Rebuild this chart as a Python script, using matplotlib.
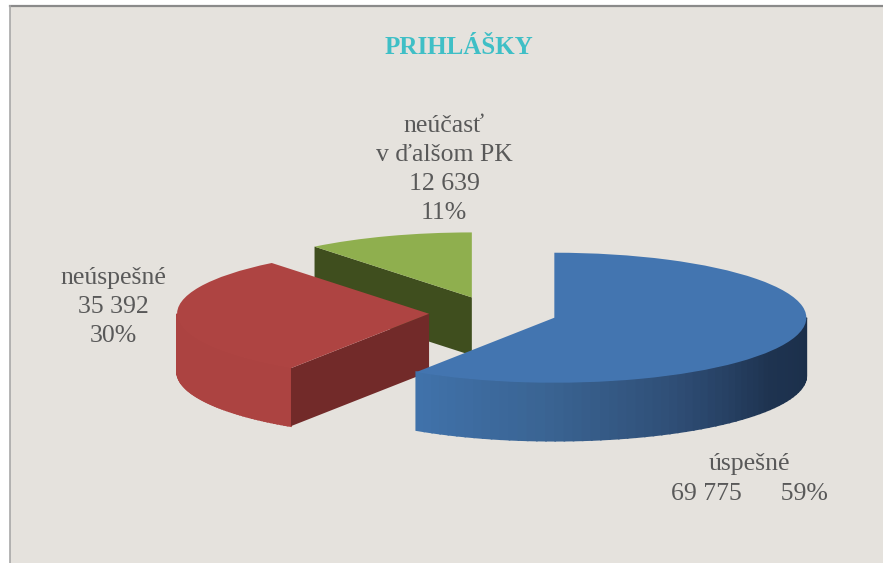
import numpy as np
import matplotlib
matplotlib.use('Agg')
import matplotlib.pyplot as plt
from matplotlib.patches import Rectangle
from matplotlib.colors import LinearSegmentedColormap

categories = ['úspešné', 'neúspešné', 'neúčasť v ďalšom PK']
values = [69775, 35392, 12639]
label_texts = ['úspešné\n69 775      59%', 'neúspešné\n35 392\n30%', 'neúčasť\nv ďalšom PK\n12 639\n11%']
title = 'PRIHLÁŠKY'

W, H = 883, 563
# pie centre and radii in pixels, depth of the "3d" side
cx, cy = 493, 313
rx, ry = 252, 65
depth = 58 / ry

plt.rcParams['font.family'] = ['Liberation Serif', 'DejaVu Serif']

fig = plt.figure(figsize=(W / 100, H / 100), dpi=100, facecolor='white')
ax = fig.add_axes([0, 0, 1, 1])

wedges, _ = ax.pie(values, startangle=90, counterclock=False, radius=1,
                   explode=[0.254] * 3, colors=['#4375B0', '#AE4442', '#8FAF4E'])
ax.set_aspect('auto')
ax.set_xlim(-cx / rx, (W - cx) / rx)
ax.set_ylim((cy - H) / ry, cy / ry)
ax.axis('off')


def px(x, y):
    return x / W, 1 - y / H


# background panel
fig.patches.append(Rectangle(px(10, H), 1, (H - 6) / H, transform=fig.transFigure,
                             facecolor='#E5E2DD', edgecolor='none', zorder=-5))
fig.add_artist(plt.Line2D([10 / W, 1], [1 - 6 / H] * 2, color='#8A8A8A', lw=1.6))
fig.add_artist(plt.Line2D([10 / W] * 2, [0, 1 - 6 / H], color='#A8A8A8', lw=1.2))

blue_side = LinearSegmentedColormap.from_list('b', ['#4072AA', '#3A6493', '#2F4E76', '#1E3350', '#1B2F4A'])
red_side = LinearSegmentedColormap.from_list('r', ['#AC4341', '#AC4341'])
side_maps = [blue_side, red_side, None]
radial_cols = [None, '#722A29', '#3F4E1E']

# back to front: green, red, blue
order = {2: 2, 1: 4, 0: 6}
for i, w in enumerate(wedges):
    z = order[i]
    w.set_zorder(z)
    x0, y0 = w.center
    # outer rim, only the part facing the viewer
    a1, a2 = w.theta1, w.theta2
    if a1 < -180:
        a1 = -180
    a2 = min(a2, 0)
    if side_maps[i] is not None and a2 > a1:
        angs = np.linspace(a1, a2, 60)
        for k in range(len(angs) - 1):
            t = np.radians(angs[k:k + 2])
            xs = x0 + np.cos(t)
            ys = y0 + np.sin(t)
            ax.fill([xs[0], xs[1], xs[1], xs[0]], [ys[0], ys[1], ys[1] - depth, ys[0] - depth],
                    color=side_maps[i](k / (len(angs) - 2)), lw=1.2, zorder=z - 1)
    # flat cut face
    if radial_cols[i] is not None:
        t = np.radians(w.theta2)
        xe, ye = x0 + np.cos(t), y0 + np.sin(t)
        ax.fill([x0, xe, xe, x0], [y0, ye, ye - depth, y0 - depth],
                color=radial_cols[i], lw=0, zorder=z - 0.5)

grey = '#595959'
fig.text(*px(459, 47), title, color='#3FBFC6', fontsize=18, fontweight='bold', ha='center', va='center')
label_pos = [(749, 479), (113, 307), (444, 169.5)]
for txt, pos in zip(label_texts, label_pos):
    fig.text(*px(*pos), txt, color=grey, fontsize=18.5, ha='center', va='center',
             multialignment='center', linespacing=1.42)

fig.savefig('out.png', dpi=100, facecolor='white')
